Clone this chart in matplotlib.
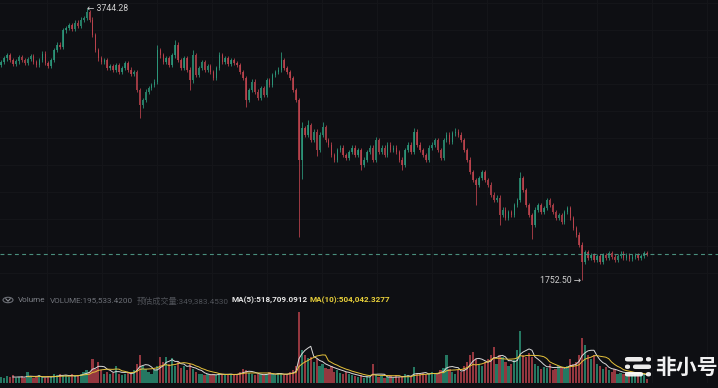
import numpy as np
import matplotlib.pyplot as plt
from matplotlib.patches import FancyBboxPatch, Circle
from matplotlib.lines import Line2D

plt.rcParams['font.family'] = ['Roboto', 'Noto Sans CJK SC', 'DejaVu Sans']

# close prices, one per candle (open = previous close)
closes = [
    3349, 3378, 3400, 3364, 3335, 3356, 3386, 3364, 3342, 3371, 3393, 3349, 3327, 3364, 3408, 3342, 3320,
    3364, 3437, 3474, 3459,
    3583, 3598, 3620, 3591, 3635, 3613, 3657, 3671, 3715,
    3657, 3547, 3437, 3378, 3349, 3364, 3305,
    3320, 3291, 3327, 3276, 3305, 3342, 3291, 3261, 3276,
    3144, 3034,
    3071, 3130, 3159, 3181, 3203,
    3437, 3400, 3349, 3378, 3327, 3400, 3474,
    3364, 3305, 3378, 3291, 3217, 3400, 3254,
    3305, 3349, 3291, 3320, 3276, 3232,
    3305, 3400, 3349, 3378, 3335, 3364, 3342, 3327, 3276, 3232,
    3071, 3144, 3203, 3130, 3086, 3159, 3108,
    3217, 3181, 3254, 3276, 3291, 3364,
    3305, 3276, 3232, 3144, 3071,
    2632,
    2866,
    2815, 2888, 2778, 2837, 2705, 2815,
    2873, 2778, 2742,
    2668, 2632, 2705, 2720, 2668,
    2646, 2690, 2720,
    2668, 2705, 2595, 2632, 2690, 2720,
    2632, 2778, 2690,
    2720, 2668, 2742, 2705, 2720, 2690, 2632,
    2595, 2705, 2742, 2690, 2837,
    2742, 2705, 2668, 2632, 2720, 2742, 2778, 2705, 2646,
    2778, 2815, 2764, 2829, 2837, 2815,
    2778, 2705,
    2632, 2544, 2485, 2449, 2500, 2544, 2485, 2449, 2376, 2339, 2354, 2229,
    2266, 2207, 2251, 2229, 2302, 2339,
    2500, 2412, 2302, 2229,
    2156,
    2266, 2302, 2251, 2280, 2339, 2302, 2251, 2207, 2229, 2178, 2251, 2280, 2207,
    2134, 2083, 2010, 1885,
    1958, 1914, 1936, 1900, 1929, 1885, 1936, 1914, 1951, 1922, 1900, 1929, 1944,
    1914, 1936, 1907, 1922, 1936, 1914, 1929, 1951, 1944,
]
first_open = 3330
wick = 18  # typical shadow length

# long shadows seen on the chart
spike_high = {29: 3744.28, 53: 3474, 59: 3510, 65: 3437, 74: 3422, 95: 3422,
              102: 2910, 104: 2924, 109: 2910, 127: 2800, 140: 2866, 154: 2866, 176: 2544}
spike_low = {47: 2939, 64: 3144, 83: 3020, 101: 2068, 102: 2490, 107: 2660,
             122: 2558, 136: 2558, 161: 2302, 169: 2156, 180: 2053, 197: 1752.50}

# volume per candle, thousands
volumes_k = [
    300, 250, 350, 300, 400, 250, 300, 350, 250, 600,
    300, 250, 350, 400, 300, 250, 350, 300, 450, 400,
    500, 350, 400, 300, 450, 350, 400, 500, 600, 700,
    600, 1250, 750, 1100, 700, 500, 600, 450, 550, 900,
    500, 400, 450, 600, 500, 700, 1000, 1500, 900, 750,
    600, 500, 700, 900, 1350, 1100, 1400, 1000, 1300, 900,
    1100, 800, 900, 700, 1000, 750, 600, 500, 450, 400,
    450, 400, 500, 400, 550, 450, 400, 500, 450, 400,
    500, 600, 750, 700, 550, 450, 400, 500, 450, 400,
    500, 600, 450, 400, 550, 500, 400, 450, 600, 700,
    900, 3750, 1750, 1500, 1300, 1400, 1100, 1250, 900, 1000,
    800, 750, 900, 600, 700, 550, 500, 600, 450, 400,
    350, 300, 400, 250, 350, 300, 1000, 400, 300, 350,
    250, 300, 350, 250, 400, 300, 350, 450, 400, 300,
    850, 500, 450, 550, 400, 500, 600, 450, 500, 700,
    800, 1500, 750, 600, 500, 700, 600, 900, 1100, 1500,
    1650, 1250, 1000, 900, 1100, 1250, 1500, 1900, 1000, 1500,
    1400, 1100, 900, 1000, 1200, 1750, 2750, 1500, 1400, 1600,
    1400, 1000, 900, 750, 850, 800, 1000, 700, 750, 900,
    800, 750, 900, 1250, 1000, 1100, 1500, 2400, 2000, 1500,
    1250, 1500, 1000, 900, 750, 850, 700, 600, 750, 500,
    550, 450, 500, 600, 400, 450, 550, 500, 450, 195.5334,
]

last_price = 1944
hi_label = '3744.28'
lo_label = '1752.50'

bg = '#0e0f13'
grid_c = '#15161a'
up_c = '#2e9c7e'
dn_c = '#c2454f'

closes = np.array(closes, dtype=float)
n = len(closes)
opens = np.concatenate([[first_open], closes[:-1]])
highs = np.maximum(opens, closes) + wick
lows = np.minimum(opens, closes) - wick
for k, v in spike_high.items():
    highs[k] = v
for k, v in spike_low.items():
    lows[k] = v
idx = np.arange(n)
up = closes >= opens
colors = np.where(up, up_c, dn_c)

fig = plt.figure(figsize=(7.18, 3.88), dpi=100)
fig.patch.set_facecolor(bg)

ax = fig.add_axes([0, 0.2526, 1, 0.7474])
axv = fig.add_axes([0, 0.0129, 1, 0.2448])

xlim = (-0.34, 243.05)
for a in (ax, axv):
    a.set_facecolor(bg)
    for s in a.spines.values():
        s.set_visible(False)
    a.set_xticks(np.arange(15.6, 245, 18.64))
    a.set_xlim(*xlim)
    a.tick_params(length=0, labelbottom=False, labelleft=False)
    a.grid(True, color=grid_c, lw=0.7)
    a.set_axisbelow(True)

ax.set_yticks(np.arange(3781, 1600, -197.6))
ax.set_ylim(1680, 3803)

# candles
ax.vlines(idx, lows, highs, colors=colors, lw=0.7, alpha=0.8)
body = np.where(np.abs(closes - opens) < 6, 6, closes - opens)
ax.bar(idx, body, bottom=opens, width=0.5, color=colors, alpha=0.8, lw=0)

ax.axhline(last_price, color='#4a8f7e', lw=0.8, dashes=(3.5, 3))

ih = int(np.argmax(highs))
il = int(np.argmin(lows))
ax.text(ih + 0.3, highs[ih], '\u2190 ' + hi_label, color='#d0d0d0', fontsize=6.3,
        va='center', ha='left', family=['Roboto', 'DejaVu Sans'])
ax.text(il - 0.5, lows[il], lo_label + ' \u2192', color='#d0d0d0', fontsize=6.3,
        va='center', ha='right', family=['Roboto', 'DejaVu Sans'])
ax.set_ylim(1680, 3803)

# volume
vols = np.array(volumes_k) * 1000
axv.bar(idx, vols, width=0.75, color=colors, alpha=0.75, lw=0)
ma5 = np.convolve(vols, np.ones(5) / 5, mode='full')[:n]
ma10 = np.convolve(vols, np.ones(10) / 10, mode='full')[:n]
ma5[:4] = np.nan
ma10[:9] = np.nan
axv.plot(idx, ma5, color='#d9d9d9', lw=0.7)
axv.plot(idx, ma10, color='#e6c23a', lw=0.7)
axv.set_yticks([])
axv.set_ylim(0, vols.max() / 0.747)

# volume legend row
cy = 1 - 300 / 388
fig.patches.append(Circle((8 / 718, cy), 5 / 718, transform=fig.transFigure,
                          fill=False, ec='#6b6e75', lw=0.8))
fig.lines.append(Line2D([5.8 / 718, 8 / 718, 10.2 / 718], [cy + 1.2 / 388, cy - 1.2 / 388, cy + 1.2 / 388],
                        transform=fig.transFigure, color='#8a8d93', lw=0.8))
yt = 1 - 300.5 / 388
fs = 5.9
fig.text(18 / 718, yt, 'Volume', color='#7c7f86', fontsize=fs, va='center')
fig.text(50 / 718, yt, 'VOLUME:195,533.4200', color='#6e7178', fontsize=fs, va='center')
fig.text(137 / 718, yt, '预估成交量:349,383.4530', color='#4e5157', fontsize=fs, va='center')
fig.text(231 / 718, yt, 'MA(5):518,709.0912', color='#e6e6e6', fontsize=fs, va='center',
         fontweight='bold')
fig.text(309 / 718, yt, 'MA(10):504,042.3277', color='#e8d03a', fontsize=fs, va='center',
         fontweight='bold')

# watermark
def pill(x0, y0, w, h):
    fig.patches.append(FancyBboxPatch((x0 / 718, 1 - (y0 + h) / 388), w / 718, h / 388,
                                      boxstyle='round,pad=0,rounding_size=0.004',
                                      transform=fig.transFigure, fc='white', ec='none', alpha=0.92))

pill(625, 357, 18, 4.5)
pill(646, 357, 5, 4.5)
pill(625, 364.5, 5, 4.5)
pill(633, 364.5, 18, 4.5)
pill(625, 372, 18, 4.5)
pill(646, 372, 5, 4.5)
fig.text(655 / 718, 1 - 367 / 388, '非小号', color='white', fontsize=15, fontweight='bold',
         va='center', ha='left', alpha=0.95, family=['Noto Sans CJK SC'])

fig.savefig('out.png', dpi=100, facecolor=bg)
